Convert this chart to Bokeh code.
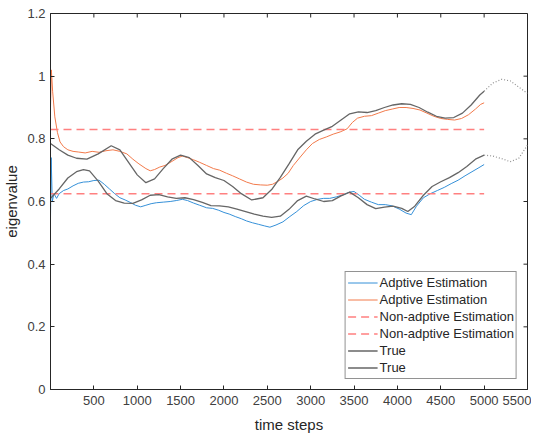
import math
from bokeh.plotting import figure
from bokeh.models import Legend, LegendItem, FixedTicker, Range1d
from bokeh.embed import file_html
from bokeh.resources import INLINE

# ---------------- data ----------------
true_hi_t = [0, 100, 200, 300, 420, 550, 700, 800, 900, 1000, 1100, 1200, 1300, 1400, 1500,
             1600, 1700, 1800, 1900, 2000, 2100, 2200, 2320, 2450, 2550, 2650, 2750, 2850,
             2950, 3050, 3150, 3250, 3350, 3450, 3550, 3650, 3750, 3850, 3950, 4050, 4150,
             4250, 4350, 4450, 4550, 4650, 4750, 4850, 4950, 5000]
true_hi_v = [0.785, 0.765, 0.748, 0.738, 0.735, 0.752, 0.778, 0.765, 0.725, 0.685, 0.660,
             0.672, 0.705, 0.735, 0.748, 0.740, 0.715, 0.688, 0.676, 0.667, 0.648, 0.625,
             0.605, 0.612, 0.638, 0.677, 0.720, 0.765, 0.792, 0.815, 0.828, 0.840, 0.860,
             0.880, 0.886, 0.884, 0.890, 0.900, 0.908, 0.912, 0.910, 0.900, 0.885, 0.872,
             0.866, 0.868, 0.882, 0.908, 0.940, 0.952]
true_hi_ext_t = [5000, 5100, 5200, 5300, 5400, 5500]
true_hi_ext_v = [0.952, 0.978, 0.990, 0.985, 0.965, 0.945]

true_lo_t = [0, 100, 200, 300, 380, 450, 550, 650, 750, 850, 950, 1050, 1150, 1250, 1350,
             1450, 1550, 1650, 1750, 1850, 1950, 2050, 2150, 2250, 2350, 2450, 2550, 2650,
             2750, 2850, 2950, 3050, 3150, 3250, 3350, 3450, 3550, 3650, 3750, 3850, 3950,
             4050, 4120, 4200, 4300, 4400, 4500, 4600, 4700, 4800, 4900, 5000]
true_lo_v = [0.610, 0.640, 0.675, 0.695, 0.702, 0.698, 0.665, 0.625, 0.603, 0.595, 0.594,
             0.605, 0.620, 0.622, 0.615, 0.610, 0.612, 0.606, 0.597, 0.587, 0.586, 0.583,
             0.576, 0.568, 0.560, 0.553, 0.549, 0.553, 0.575, 0.603, 0.617, 0.608, 0.600,
             0.603, 0.618, 0.630, 0.612, 0.590, 0.577, 0.582, 0.585, 0.578, 0.568, 0.585,
             0.620, 0.648, 0.663, 0.676, 0.692, 0.712, 0.735, 0.748]
true_lo_ext_t = [5000, 5100, 5200, 5300, 5400, 5500]
true_lo_ext_v = [0.748, 0.745, 0.737, 0.727, 0.738, 0.780]

adapt_hi_t = [0, 10, 25, 50, 80, 110, 150, 200, 260, 320, 400, 480, 560, 640, 720, 800, 880,
              950, 1020, 1100, 1150, 1200, 1260, 1320, 1400, 1470, 1520, 1580, 1650, 1720,
              1800, 1880, 1950, 2030, 2100, 2180, 2260, 2340, 2420, 2500, 2560, 2620, 2680,
              2740, 2800, 2880, 2950, 3020, 3100, 3180, 3260, 3340, 3420, 3480, 3540, 3620,
              3700, 3780, 3860, 3940, 4020, 4100, 4180, 4260, 4340, 4420, 4500, 4580, 4660,
              4740, 4820, 4900, 4960, 5000]
adapt_hi_v = [0.900, 1.020, 0.950, 0.870, 0.820, 0.790, 0.775, 0.765, 0.760, 0.758, 0.755,
              0.760, 0.757, 0.762, 0.765, 0.760, 0.752, 0.735, 0.720, 0.705, 0.698, 0.702,
              0.710, 0.715, 0.728, 0.740, 0.745, 0.740, 0.733, 0.725, 0.715, 0.705, 0.700,
              0.690, 0.682, 0.672, 0.662, 0.655, 0.653, 0.652, 0.655, 0.664, 0.675, 0.690,
              0.715, 0.742, 0.765, 0.785, 0.798, 0.806, 0.815, 0.822, 0.832, 0.852, 0.866,
              0.872, 0.874, 0.882, 0.890, 0.895, 0.900, 0.900, 0.897, 0.892, 0.882, 0.872,
              0.865, 0.862, 0.860, 0.865, 0.877, 0.895, 0.910, 0.915]

adapt_lo_t = [0, 8, 20, 40, 70, 100, 150, 200, 260, 320, 380, 440, 500, 560, 620, 680, 740,
              800, 860, 920, 980, 1040, 1100, 1160, 1220, 1300, 1380, 1450, 1520, 1580, 1650,
              1720, 1800, 1870, 1940, 2000, 2060, 2130, 2200, 2260, 2330, 2400, 2470, 2530,
              2600, 2680, 2760, 2840, 2920, 3000, 3080, 3150, 3220, 3300, 3380, 3450, 3500,
              3560, 3620, 3700, 3780, 3860, 3940, 4020, 4100, 4160, 4220, 4300, 4380, 4460,
              4540, 4620, 4700, 4780, 4860, 4940, 5000]
adapt_lo_v = [0.550, 0.740, 0.600, 0.625, 0.610, 0.625, 0.635, 0.640, 0.650, 0.658, 0.662,
              0.663, 0.667, 0.668, 0.655, 0.640, 0.625, 0.612, 0.605, 0.597, 0.588, 0.583,
              0.588, 0.593, 0.596, 0.598, 0.600, 0.603, 0.607, 0.603, 0.595, 0.588, 0.580,
              0.578, 0.572, 0.565, 0.560, 0.552, 0.545, 0.538, 0.532, 0.527, 0.522, 0.518,
              0.525, 0.535, 0.552, 0.568, 0.587, 0.600, 0.607, 0.610, 0.610, 0.615, 0.622,
              0.630, 0.632, 0.620, 0.607, 0.598, 0.590, 0.590, 0.586, 0.576, 0.563, 0.558,
              0.585, 0.612, 0.625, 0.635, 0.645, 0.657, 0.668, 0.682, 0.695, 0.708, 0.718]

nonadapt_t = [0, 5000]
nonadapt_hi = 0.83
nonadapt_lo = 0.625

x_min, x_max = 0, 5500
y_min, y_max = 0, 1.2
x_ticks = [500, 1000, 1500, 2000, 2500, 3000, 3500, 4000, 4500, 5000, 5500]
y_ticks = [0, 0.2, 0.4, 0.6, 0.8, 1.0, 1.2]
y_tick_labels = {0: "0", 0.2: "0.2", 0.4: "0.4", 0.6: "0.6", 0.8: "0.8", 1: "1", 1.2: "1.2"}

# ---------------- styles ----------------
FONT = "Liberation Sans"
AX = "#262626"
TXT = "#404040"
BLUE = "#3590d8"
ORANGE = "#f27a4b"
RED = "#ff8080"
GRAY = "#666666"

p = figure(width=531, height=435, x_range=Range1d(x_min, x_max), y_range=Range1d(y_min, y_max),
           output_backend="svg", toolbar_location=None,
           min_border_left=43, min_border_right=4, min_border_top=13, min_border_bottom=42)
p.xgrid.visible = False
p.ygrid.visible = False
p.outline_line_color = AX
p.outline_line_width = 1
p.background_fill_color = "white"
p.border_fill_color = "white"

r_blue = p.line(adapt_lo_t, adapt_lo_v, color=BLUE, line_width=1)
r_orange = p.line(adapt_hi_t, adapt_hi_v, color=ORANGE, line_width=1)
r_red1 = p.line(nonadapt_t, [nonadapt_lo, nonadapt_lo], color=RED, line_width=1.5, line_dash="8 5")
r_red2 = p.line(nonadapt_t, [nonadapt_hi, nonadapt_hi], color=RED, line_width=1.5, line_dash="8 5")
r_true1 = p.line(true_lo_t, true_lo_v, color=GRAY, line_width=1.3)
r_true2 = p.line(true_hi_t, true_hi_v, color=GRAY, line_width=1.3)
p.line(true_lo_ext_t, true_lo_ext_v, color="#8f8f8f", line_width=1.2, line_dash="1 2")
p.line(true_hi_ext_t, true_hi_ext_v, color="#8f8f8f", line_width=1.2, line_dash="1 2")

# inward tick marks on the top and right edges of the box (MATLAB style)
p.ray(x=x_ticks, y=[y_max] * len(x_ticks), length=4, length_units="screen",
      angle=-math.pi / 2, color=AX, line_width=1)
p.ray(x=[x_max] * len(y_ticks), y=y_ticks, length=4, length_units="screen",
      angle=math.pi, color=AX, line_width=1)


def style_axis(ax):
    ax.axis_line_color = AX
    ax.major_tick_line_color = AX
    ax.major_tick_in = 4
    ax.major_tick_out = 0
    ax.minor_tick_line_color = None
    ax.major_label_text_font = FONT
    ax.major_label_text_color = TXT
    ax.major_label_text_font_size = "13px"
    ax.axis_label_text_font = FONT
    ax.axis_label_text_color = "#262626"
    ax.axis_label_text_font_style = "normal"
    ax.axis_label_text_font_size = "15px"


xb = p.xaxis[0]
xb.ticker = FixedTicker(ticks=x_ticks)
xb.axis_label = "time steps"
style_axis(xb)
xb.major_label_standoff = 6
xb.axis_label_standoff = 8

yl = p.yaxis[0]
yl.ticker = FixedTicker(ticks=y_ticks)
yl.major_label_overrides = y_tick_labels
yl.axis_label = "eigenvalue"
style_axis(yl)
yl.major_label_standoff = 5
yl.axis_label_standoff = 4

legend = Legend(items=[
    LegendItem(label="Adptive Estimation", renderers=[r_blue]),
    LegendItem(label="Adptive Estimation", renderers=[r_orange]),
    LegendItem(label="Non-adptive Estimation", renderers=[r_red1]),
    LegendItem(label="Non-adptive Estimation", renderers=[r_red2]),
    LegendItem(label="True", renderers=[r_true1]),
    LegendItem(label="True", renderers=[r_true2]),
], location="bottom_right")
legend.label_text_font = FONT
legend.label_text_font_size = "13px"
legend.label_text_color = "#262626"
legend.label_height = 17
legend.glyph_height = 17
legend.glyph_width = 30
legend.label_standoff = 2
legend.spacing = 0
legend.padding = 2
legend.margin = 10
legend.border_line_color = AX
legend.border_line_width = 1
legend.background_fill_color = "white"
legend.background_fill_alpha = 1
p.add_layout(legend)

open("out.html", "w").write(file_html(p, INLINE))
